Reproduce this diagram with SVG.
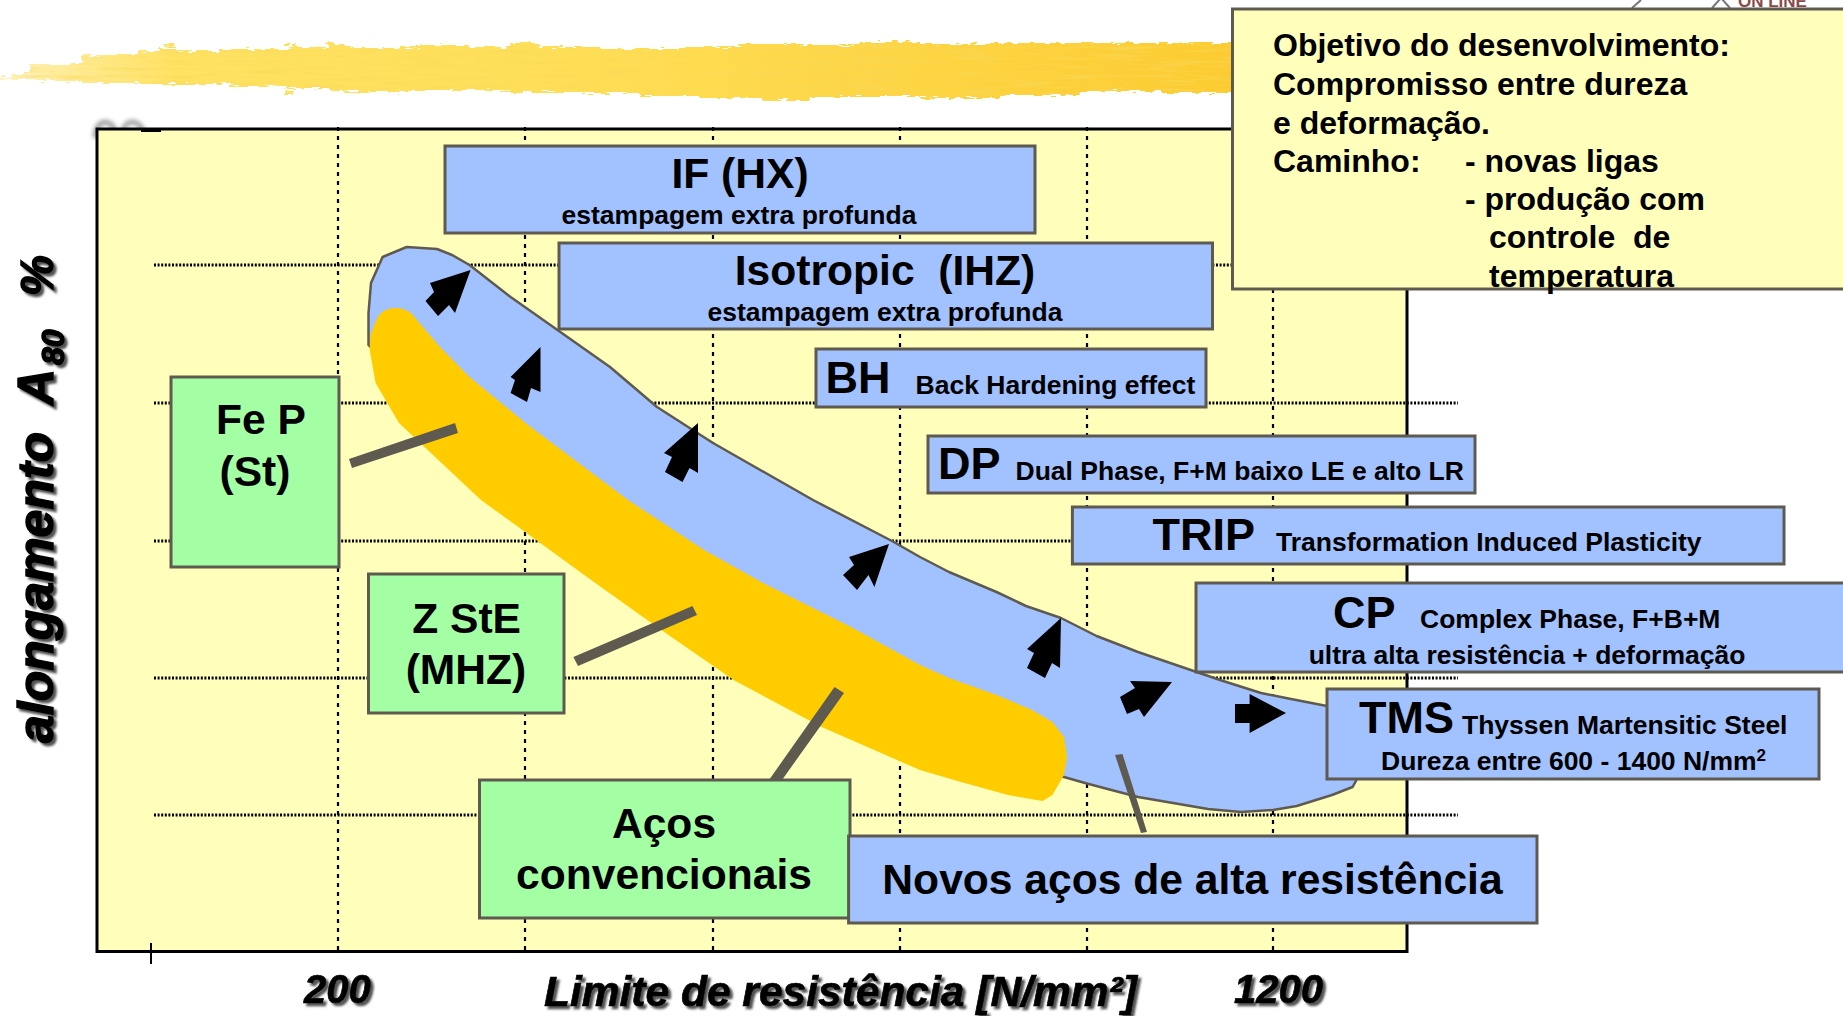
<svg xmlns="http://www.w3.org/2000/svg" width="1843" height="1016" viewBox="0 0 1843 1016">
<style>
text{font-family:"Liberation Sans",Arial,sans-serif;font-weight:700;fill:#000}
.b{font-size:42.6px}.h{font-size:45px}.s{font-size:26.5px}.m{text-anchor:middle}
.o{font-size:32px}
.box{stroke:#5f5a50;stroke-width:3}
.blue{fill:#a2c1ff}.green{fill:#a4ffa4}
.gv{stroke:#000;stroke-width:2.2;stroke-dasharray:4 5;fill:none}
.gh{stroke:#000;stroke-width:3;stroke-dasharray:2 1.6;fill:none}
.ar{fill:#000}
.lead{fill:#5f5a50}
.ax{font-style:italic;stroke:#000;stroke-width:.7px}
</style>
<defs>
<linearGradient id="brush" x1="0" x2="1" y1="0" y2="0">
<stop offset="0" stop-color="#fff2bc"/><stop offset=".07" stop-color="#ffe98c"/><stop offset=".14" stop-color="#ffe264"/><stop offset=".45" stop-color="#ffdf58"/><stop offset="1" stop-color="#fccb30"/>
</linearGradient>
<filter id="streak" x="0" y="-10%" width="100%" height="120%">
<feTurbulence type="fractalNoise" baseFrequency="0.09 0.5" numOctaves="2" seed="11" result="j"/>
<feDisplacementMap in="SourceGraphic" in2="j" scale="7" xChannelSelector="G" yChannelSelector="R" result="d"/>
<feTurbulence type="fractalNoise" baseFrequency="0.02 0.28" numOctaves="3" seed="7" result="n"/>
<feColorMatrix in="n" type="matrix" values="0 0 0 0 .94  0 0 0 0 .70  0 0 0 0 .10  1.6 0 0 0 -.72" result="c"/>
<feComposite in="c" in2="d" operator="in" result="k"/>
<feMerge><feMergeNode in="d"/><feMergeNode in="k"/></feMerge>
</filter>
<filter id="sh" x="-5%" y="-10%" width="110%" height="120%">
<feDropShadow dx="3" dy="3" stdDeviation="1.2" flood-color="#333" flood-opacity=".85"/>
</filter>
<filter id="soft" x="-30%" y="-50%" width="160%" height="200%"><feGaussianBlur stdDeviation="2.2"/></filter>
</defs>

<rect width="1843" height="1016" fill="#fff"/>

<g id="logo-fragments">
<path d="M1632 8L1641 0M1712 8L1721 -2L1730 8" fill="none" stroke="#777" stroke-width="2"/>
<text x="1738" y="7" style="font-size:17px;fill:#8b4a4a">ON LINE</text>
<path d="M95 138C95 120 110 117 115 131M123 131C125 119 139 119 143 131" fill="none" stroke="#a0a0a0" stroke-width="5" filter="url(#soft)"/>
</g>

<path id="brush-stripe" filter="url(#streak)" fill="url(#brush)" d="M0 77H12V74H30V64H82V55H118V54H138V51H160V48H176V51H220V49H290V47H330V45H350V48H400V47H420V45H470V47H510V43H540V47H600V49H680V47H740V44H800V45H860V42H920V44H1000V43H1240V93H1160V91H1080V95H1000V98H920V96H840V97H810V100H763V98H700V96H640V93H560V92H500V90H400V93H388V91H330V88H285V86H230V84H140V83H82V81H40V79H0ZM165 44h10v3h-10ZM285 43h10v3h-10ZM325 42h9v3h-9ZM284 91h10v3h-10ZM358 90h10v3h-10Z"/>

<g id="chart-frame">
<rect x="97" y="129" width="1310" height="822.5" fill="#ffffbb"/>
<g id="grid">
<path class="gh" d="M154 265H1458M154 403H1458M154 541H1458M154 678H1458M154 815H1458"/>
<path class="gv" d="M338 127V955M525 127V955M713 127V955M900 127V955M1087 127V955M1273 127V955"/>
</g>
<path d="M97 129H1407V951.5H97Z" fill="none" stroke="#000" stroke-width="3"/>
<path d="M151 943V964M141 952H161M141 131H161" stroke="#000" stroke-width="2" fill="none"/>
</g>

<path id="blue-band" class="blue" stroke="#5f5a50" stroke-width="2.5" stroke-linejoin="round" d="M368.5 345L368.5 313L371 283L382.6 257L406.7 247L437 249L452 255L469.5 265L510.6 297L557.5 330L610 367L657 407L713 443L813 500L892 541L920 557L949 572L996.5 592L1026 606L1061 618L1096.6 636L1138 652L1196.6 672L1220 680L1261 693L1291 699L1327 706L1357 779L1352.6 787L1332 795L1296.7 806L1273 810L1241 812L1208 809L1138 797L1085 783L1064 777L1000 760L800 680L600 560L440 420Z"/>
<path id="yellow-band" fill="#ffcc00" d="M369.7 350C370 338 371 330 372.7 330C375 322 378 316 381 313C386 309 391 308 396 308C402 308 407 310 411 313L440 347L469.5 377L528 425L628 500L704 550L763 583L851 627L920 665L949 678L996.5 695L1032 710L1052.4 722L1064 737L1067 757L1064 775L1052.4 795L1042.4 801L1008 795L961 782L920 770L821.6 727L733.6 680L657 627L587 577L481 500L399 423L375.6 383Z"/>

<g id="arrows">
<polygon class="ar" points="470.6,270 430,283 434,292 425.5,301 438,316 449,305 455,313"/>
<polygon class="ar" points="540.5,347 510.6,377 515,380 510.6,393 527,402 531,388 540.5,392"/>
<polygon class="ar" points="698,423 664,453 672,457 665,472 682.5,482 689.5,468 698,473"/>
<polygon class="ar" points="889,544 849,557 854,565 843,575 857,590 868.5,575 874.4,587"/>
<polygon class="ar" points="1061,618 1027,649 1034,653 1027,668 1045,678 1052,663 1060,668"/>
<polygon class="ar" points="1172,682 1130,681 1135,688 1120,697 1127,714 1139,709 1144,717"/>
<polygon class="ar" points="1286,713 1249.6,694 1249.6,704 1235,704 1235,723 1249.6,723 1249.6,733"/>
</g>

<g id="connectors">
<polygon class="lead" points="349,459 455,423 458,433 352,468"/>
<polygon class="lead" points="573.4,657 692.5,606 697,615 578,666"/>
<polygon class="lead" points="834.5,687 844,693 782,780 769,780"/>
<polygon class="lead" points="1115,755 1122.5,754 1147,832 1141,833"/>
</g>

<g id="node-if">
<rect class="box blue" x="445" y="146" width="590" height="87"/>
<text class="b m" x="740" y="188">IF (HX)</text>
<text class="s m" x="739" y="224">estampagem extra profunda</text>
</g>
<g id="node-isotropic">
<rect class="box blue" x="559" y="243" width="653.5" height="86"/>
<text class="b m" x="885" y="285" xml:space="preserve">Isotropic  (IHZ)</text>
<text class="s m" x="885" y="321">estampagem extra profunda</text>
</g>
<g id="node-bh">
<rect class="box blue" x="816" y="349" width="390" height="58"/>
<text class="h" x="825.5" y="393">BH</text>
<text class="s" x="915.6" y="394">Back Hardening effect</text>
</g>
<g id="node-dp">
<rect class="box blue" x="928" y="436" width="547" height="57"/>
<text class="h" x="938" y="479">DP</text>
<text class="s" x="1015.5" y="480">Dual Phase, F+M baixo LE e alto LR</text>
</g>
<g id="node-trip">
<rect class="box blue" x="1072.4" y="507" width="711.6" height="57"/>
<text class="h" x="1152.5" y="550">TRIP</text>
<text class="s" x="1276" y="551">Transformation Induced Plasticity</text>
</g>
<g id="node-cp">
<rect class="box blue" x="1196" y="583" width="660" height="89"/>
<text class="h" x="1333" y="628">CP</text>
<text class="s" x="1420" y="628">Complex Phase, F+B+M</text>
<text class="s m" x="1527" y="664">ultra alta resistência + deformação</text>
</g>
<g id="node-tms">
<rect class="box blue" x="1327" y="689" width="492" height="90"/>
<text class="h" x="1359" y="733">TMS</text>
<text class="s" x="1462" y="734">Thyssen Martensitic Steel</text>
<text class="s" x="1381" y="770">Dureza entre 600 - 1400 N/mm<tspan dy="-9" style="font-size:17px">2</tspan></text>
</g>
<g id="node-fep">
<rect class="box green" x="171" y="377" width="168" height="190"/>
<text class="b m" x="261" y="434">Fe P</text>
<text class="b m" x="255" y="486">(St)</text>
</g>
<g id="node-zste">
<rect class="box green" x="368.5" y="574" width="195.5" height="139"/>
<text class="b m" x="466.6" y="633">Z StE</text>
<text class="b m" x="466" y="684">(MHZ)</text>
</g>
<g id="node-convencionais">
<rect class="box green" x="479.5" y="780" width="370.5" height="138"/>
<text class="b m" x="664" y="838">Aços</text>
<text class="b m" x="664" y="889">convencionais</text>
</g>
<g id="node-novos">
<rect class="box blue" x="848.6" y="836" width="688.4" height="87"/>
<text class="b m" x="1192.5" y="894">Novos aços de alta resistência</text>
</g>
<g id="node-objetivo">
<rect class="box" fill="#ffffbb" x="1232.5" y="9" width="620" height="280"/>
<text class="o" x="1273" y="56">Objetivo do desenvolvimento:</text>
<text class="o" x="1273" y="95">Compromisso entre dureza</text>
<text class="o" x="1273" y="133.5">e deformação.</text>
<text class="o" x="1273" y="172">Caminho:</text>
<text class="o" x="1465" y="172">- novas ligas</text>
<text class="o" x="1465" y="210">- produção com</text>
<text class="o" x="1489" y="248" xml:space="preserve">controle  de</text>
<text class="o" x="1489" y="287">temperatura</text>
</g>

<g id="axis-labels" filter="url(#sh)">
<text class="ax" x="304" y="1003" style="font-size:40px">200</text>
<text class="ax" x="1234" y="1003" style="font-size:40px">1200</text>
<text class="ax" x="544" y="1006" style="font-size:42.5px">Limite de resistência [N/mm²]</text>
<g transform="translate(53,743) rotate(-90)">
<text class="ax" style="font-size:50px;stroke-width:1.4px">alongamento<tspan x="338">A</tspan><tspan x="378" dy="11" style="font-size:32px">80</tspan><tspan x="447" dy="-11" style="font-size:46px">%</tspan></text>
</g>
</g>
</svg>
